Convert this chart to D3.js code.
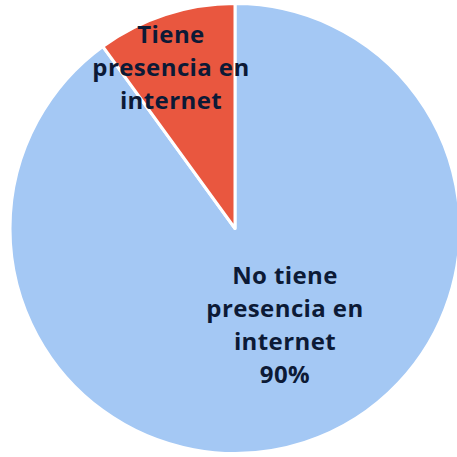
<!DOCTYPE html>
<html>
<head>
<meta charset="utf-8">
<script src="https://cdn.jsdelivr.net/npm/d3@7"></script>
<style>
  body { margin: 0; background: #fff; }
  svg { display: block; }
</style>
</head>
<body>
<svg id="chart" width="457" height="457"></svg>
<script>
// data
var categories = ["No tiene presencia en internet", "Tiene presencia en internet"];
var values = [90, 10];
var colors = ["#a4c8f4", "#e9573f"];
var labelLines = [
  ["No tiene", "presencia en", "internet", "90%"],
  ["Tiene", "presencia en", "internet"]
];

var svg = d3.select("#chart");
var cx = 235, cy = 228.5, radius = 225;

var g = svg.append("g").attr("transform", "translate(" + cx + "," + cy + ")");

var pie = d3.pie().sort(null).value(function(d) { return d; });
var arc = d3.arc().innerRadius(0).outerRadius(radius);
var arcs = pie(values);

g.selectAll("path.slice")
  .data(arcs)
  .enter().append("path")
  .attr("class", "slice")
  .attr("d", arc)
  .attr("fill", function(d, i) { return colors[i]; })
  .attr("stroke", "#fff")
  .attr("stroke-width", 3)
  .attr("stroke-linejoin", "round");

// label placement: radius + angle tweak per slice
var labelR = [109, 173];
var angleShift = [-0.162, -0.065];
var lineH = 33;

arcs.forEach(function(d, i) {
  var a = (d.startAngle + d.endAngle) / 2 + angleShift[i];
  var x = labelR[i] * Math.sin(a);
  var y = -labelR[i] * Math.cos(a);
  var lines = labelLines[i];
  var t = g.append("text")
    .attr("text-anchor", "middle")
    .attr("font-family", "'Open Sans', sans-serif")
    .attr("font-weight", "bold")
    .attr("font-size", "24px")
    .attr("letter-spacing", "0.4px")
    .attr("fill", "#0c1a36");
  lines.forEach(function(s, k) {
    t.append("tspan")
      .attr("x", x)
      .attr("y", y + (k - (lines.length - 1) / 2) * lineH)
      .attr("dy", "0.35em")
      .text(s);
  });
});
</script>
</body>
</html>
